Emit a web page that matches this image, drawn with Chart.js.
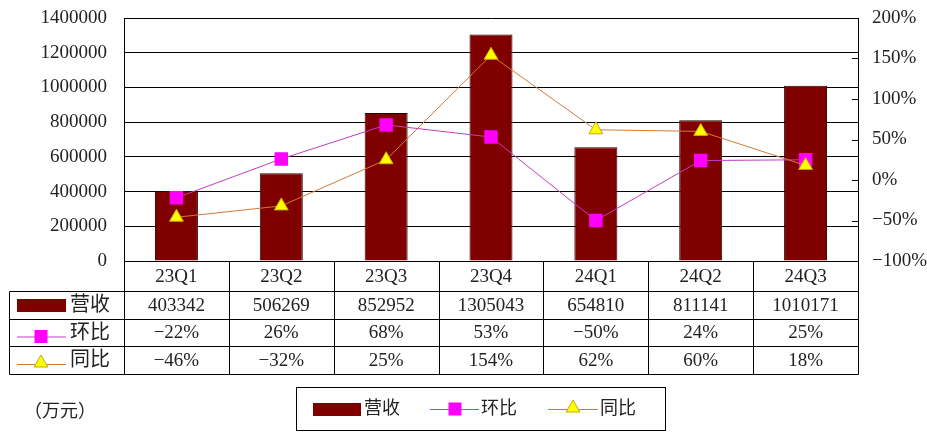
<!DOCTYPE html>
<html>
<head>
<meta charset="utf-8">
<script src="https://cdn.jsdelivr.net/npm/chart.js@4.4.1/dist/chart.umd.min.js"></script>
<style>
html,body{margin:0;padding:0;background:#fff;}
#wrap{width:927px;height:446px;position:relative;}
</style>
</head>
<body>
<div id="wrap"><canvas id="c" width="927" height="446"></canvas></div>
<script>
const categories = ['23Q1', '23Q2', '23Q3', '23Q4', '24Q1', '24Q2', '24Q3'];
const revenue = [403342, 506269, 852952, 1305043, 654810, 811141, 1010171];
const qoq = [-22, 26, 68, 53, -50, 24, 25];
const yoy = [-46, -32, 25, 154, 62, 60, 18];
const seriesNames = ['营收', '环比', '同比'];
const unitLabel = '（万元）';

const FONT = "'Liberation Serif', 'Noto Sans CJK SC', serif";
const BAR_COLOR = '#800000';
const QOQ_LINE = '#c23cc2';
const QOQ_POINT = '#ff00ff';
const YOY_LINE = '#d07a3a';
const YOY_POINT = '#ffff00';

function pct(v) { return (v < 0 ? '\u2212' + Math.abs(v) : String(v)) + '%'; }

function drawSquare(ctx, x, y, s, fill) {
  ctx.fillStyle = fill;
  ctx.fillRect(x - s / 2, y - s / 2, s, s);
}
function drawTri(ctx, x, y, r, fill, stroke) {
  ctx.beginPath();
  for (let k = 0; k < 3; k++) {
    const a = k * 2 * Math.PI / 3;
    const px = x + Math.sin(a) * r, py = y - Math.cos(a) * r;
    if (k === 0) ctx.moveTo(px, py); else ctx.lineTo(px, py);
  }
  ctx.closePath();
  ctx.fillStyle = fill; ctx.fill();
  ctx.strokeStyle = stroke; ctx.lineWidth = 1; ctx.stroke();
}

const tablePlugin = {
  id: 'tablePlugin',
  afterDraw(chart) {
    const ctx = chart.ctx;
    const ca = chart.chartArea;
    const xs = chart.scales.x;
    const y1 = chart.scales.y1;
    const n = categories.length;
    const colW = (ca.right - ca.left) / n;
    const L = 9.5;
    const rows = [ca.bottom, 291, 319, 346, 374];
    ctx.save();
    ctx.strokeStyle = '#000';
    ctx.lineWidth = 1;
    y1.ticks.forEach((t, i) => {
      const yy = Math.round(y1.getPixelForTick(i)) + 0.5;
      ctx.beginPath(); ctx.moveTo(ca.right - 6, yy); ctx.lineTo(ca.right, yy); ctx.stroke();
    });
    for (let r = 1; r < rows.length; r++) {
      ctx.beginPath(); ctx.moveTo(L, rows[r] + 0.5); ctx.lineTo(Math.round(ca.right) + 0.5, rows[r] + 0.5); ctx.stroke();
    }
    ctx.beginPath(); ctx.moveTo(L, rows[1] + 0.5); ctx.lineTo(L, rows[4] + 0.5); ctx.stroke();
    for (let i = 0; i <= n; i++) {
      const xx = Math.round(ca.left + i * colW) + 0.5;
      ctx.beginPath(); ctx.moveTo(xx, rows[0]); ctx.lineTo(xx, rows[4] + 0.5); ctx.stroke();
    }
    ctx.fillStyle = '#222';
    ctx.textAlign = 'center';
    ctx.textBaseline = 'middle';
    ctx.font = '19px ' + FONT;
    const rowVals = [categories, revenue.map(String), qoq.map(pct), yoy.map(pct)];
    for (let r = 0; r < 4; r++) {
      const cy = (rows[r] + rows[r + 1]) / 2 + 1;
      for (let i = 0; i < n; i++) {
        ctx.fillText(rowVals[r][i], xs.getPixelForValue(i), cy);
      }
    }
    ctx.textAlign = 'left';
    ctx.font = '20px ' + FONT;
    const hx = 70;
    let cy = (rows[1] + rows[2]) / 2;
    ctx.fillStyle = BAR_COLOR;
    ctx.fillRect(17, cy - 6, 49, 13);
    ctx.fillStyle = '#222'; ctx.fillText(seriesNames[0], hx, cy + 1);
    cy = (rows[2] + rows[3]) / 2 + 4;
    ctx.strokeStyle = QOQ_LINE; ctx.beginPath(); ctx.moveTo(17, cy + 0.5); ctx.lineTo(66, cy + 0.5); ctx.stroke();
    drawSquare(ctx, 41, cy, 13, QOQ_POINT);
    ctx.fillStyle = '#222'; ctx.fillText(seriesNames[1], hx, cy - 3);
    cy = (rows[3] + rows[4]) / 2 + 4;
    ctx.strokeStyle = YOY_LINE; ctx.beginPath(); ctx.moveTo(17, cy + 0.5); ctx.lineTo(66, cy + 0.5); ctx.stroke();
    drawTri(ctx, 41, cy - 1, 8, YOY_POINT, '#c8a800');
    ctx.fillStyle = '#222'; ctx.fillText(seriesNames[2], hx, cy - 3);

    ctx.font = '18px ' + FONT;
    ctx.fillText(unitLabel, 24, 412);

    ctx.strokeStyle = '#000'; ctx.lineWidth = 1;
    ctx.strokeRect(296.5, 387.5, 369, 43);
    const ly = 409;
    ctx.font = '18px ' + FONT;
    ctx.fillStyle = BAR_COLOR; ctx.fillRect(313, ly - 6, 48, 13);
    ctx.fillStyle = '#222'; ctx.fillText(seriesNames[0], 364, ly);
    ctx.strokeStyle = QOQ_LINE; ctx.beginPath(); ctx.moveTo(430, ly + 0.5); ctx.lineTo(479, ly + 0.5); ctx.stroke();
    drawSquare(ctx, 455, ly, 13, QOQ_POINT);
    ctx.fillStyle = '#222'; ctx.fillText(seriesNames[1], 481, ly);
    ctx.strokeStyle = YOY_LINE; ctx.beginPath(); ctx.moveTo(548, ly + 0.5); ctx.lineTo(598, ly + 0.5); ctx.stroke();
    drawTri(ctx, 573, ly - 1, 8, YOY_POINT, '#c8a800');
    ctx.fillStyle = '#222'; ctx.fillText(seriesNames[2], 600, ly);
    ctx.restore();
  }
};

new Chart(document.getElementById('c'), {
  data: {
    labels: categories,
    datasets: [
      {
        type: 'line', label: seriesNames[1], data: qoq, yAxisID: 'y1',
        borderColor: QOQ_LINE, borderWidth: 1, pointStyle: 'rect', pointRadius: 9.5,
        pointBackgroundColor: QOQ_POINT, pointBorderColor: QOQ_POINT, pointBorderWidth: 0,
        tension: 0, order: 1
      },
      {
        type: 'line', label: seriesNames[2], data: yoy, yAxisID: 'y1',
        borderColor: YOY_LINE, borderWidth: 1, pointStyle: 'triangle', pointRadius: 8,
        pointBackgroundColor: YOY_POINT, pointBorderColor: '#c8a800', pointBorderWidth: 1,
        tension: 0, order: 0
      },
      {
        type: 'bar', label: seriesNames[0], data: revenue, yAxisID: 'y',
        backgroundColor: BAR_COLOR, borderColor: '#2a0000', borderWidth: 1,
        barPercentage: 0.82, categoryPercentage: 0.5, order: 2
      }
    ]
  },
  options: {
    responsive: false,
    animation: false,
    layout: { padding: { top: 18, bottom: 185, left: 0, right: 0 } },
    plugins: { legend: { display: false }, tooltip: { enabled: false } },
    scales: {
      x: { display: false, offset: true },
      y: {
        position: 'left', min: 0, max: 1400000,
        ticks: { stepSize: 200000, color: '#222', font: { family: FONT, size: 19 }, padding: 17,
          callback: v => String(v) },
        grid: { color: '#000', lineWidth: 1, drawTicks: false },
        border: { display: true, color: '#000' },
        afterFit(s) { s.width = 124; s.paddingTop = 0; s.paddingBottom = 0; }
      },
      y1: {
        position: 'right', min: -100, max: 200,
        ticks: { stepSize: 50, color: '#222', font: { family: FONT, size: 19 }, padding: 14,
          callback: v => pct(v) },
        grid: { display: false, drawTicks: false },
        border: { display: true, color: '#000' },
        afterFit(s) { s.width = 69; s.paddingTop = 0; s.paddingBottom = 0; }
      }
    }
  },
  plugins: [tablePlugin]
});
</script>
</body>
</html>
